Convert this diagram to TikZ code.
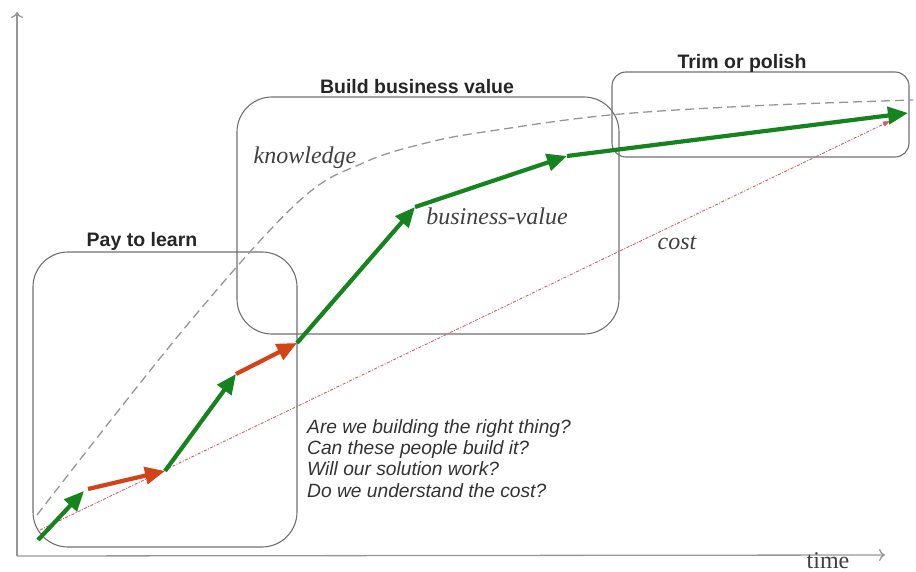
\documentclass[tikz,border=0pt]{standalone}
\usepackage{fontspec}
\setmainfont{Liberation Serif}
\setsansfont{Liberation Sans}
\usetikzlibrary{arrows.meta}
\definecolor{valgreen}{RGB}{22,132,30}
\definecolor{learnred}{RGB}{212,66,24}
\definecolor{framegray}{RGB}{112,112,112}
\definecolor{knowgray}{RGB}{150,150,150}
\definecolor{costred}{RGB}{214,90,100}
\begin{document}
\begin{tikzpicture}[x=1pt,y=-1pt,
  phase/.style={draw=framegray, line width=1.1pt},
  phaselabel/.style={font=\sffamily\bfseries\fontsize{19.5}{21}\selectfont, text=black!85, inner sep=0pt},
  curvelabel/.style={font=\itshape\fontsize{24}{26}\selectfont, text=black!75, inner sep=0pt},
  question/.style={font=\sffamily\itshape\fontsize{19.2}{21}\selectfont, text=black!80, inner sep=0pt, anchor=base west},
  valstep/.style={draw=valgreen, line width=4.2pt, -{Triangle[length=20pt,width=17pt]}},
  learnstep/.style={draw=learnred, line width=4.2pt, -{Triangle[length=20pt,width=17pt]}},
  axisline/.style={draw=knowgray, line width=1.3pt},
  knowcurve/.style={draw=knowgray, line width=1.3pt, dash pattern=on 9pt off 5pt},
  costline/.style={draw=costred, line width=0.9pt, dash pattern=on 3pt off 1.5pt on 1pt off 1.5pt, -{Triangle[length=7pt,width=5pt]}}]
\useasboundingbox (0,0) rectangle (916,572);

% axes
\coordinate (origin) at (17,556);
\coordinate (ytop) at (17,12);
\coordinate (xend) at (885,555);
\draw[axisline, -{To[length=6pt,width=12pt]}] (origin) -- (ytop);
\draw[axisline, -{To[length=6pt,width=12pt]}] (origin) -- (xend);
\node[font=\fontsize{24}{26}\selectfont, text=black!75, inner sep=0pt, anchor=base] (timelbl) at (828,568) {time};

% phases
\draw[phase, rounded corners=35pt] (33,252) rectangle (297,547);
\draw[phase, rounded corners=35pt] (237,97) rectangle (619,334);
\draw[phase, rounded corners=14pt] (612,72) rectangle (909,157);
\node[phaselabel, anchor=base] (learnlbl) at (142,247) {Pay to learn};
\node[phaselabel, anchor=base] (buildlbl) at (417,94) {Build business value};
\node[phaselabel, anchor=base] (trimlbl) at (742,69) {Trim or polish};

% knowledge curve
\draw[knowcurve] plot[smooth, tension=0.6] coordinates {(37,515) (183,330) (297,203) (363,163) (430,142) (497,130) (610,115) (750,106) (913,100)};
\node[curvelabel, anchor=base] (knowlbl) at (305,164) {knowledge};

% cost line
\coordinate (c0) at (40,530);
\coordinate (c1) at (890,121);
\draw[costline] (c0) -- (c1);
\node[curvelabel, anchor=base] (costlbl) at (677,250) {cost};

% business value steps
\coordinate (v0) at (38,540);
\coordinate (v1) at (84,491);
\coordinate (r0) at (88,489);
\coordinate (v2) at (165,471);
\coordinate (v3) at (236,374);
\coordinate (v4) at (297,343);
\coordinate (v5) at (415,207);
\coordinate (v6) at (567,156);
\coordinate (v7) at (908,113);
\draw[valstep] (v0) -- (v1);
\draw[learnstep] (r0) -- (v2);
\draw[valstep] (v2) -- (v3);
\draw[learnstep] (v3) -- (v4);
\draw[valstep] (v4) -- (v5);
\draw[valstep] (v5) -- (v6);
\draw[valstep] (v6) -- (v7);
\node[curvelabel, anchor=base] (valuelbl) at (497,225) {business-value};

% questions
\node[question] (q1) at (307,433) {Are we building the right thing?};
\node[question] (q2) at (307,454) {Can these people build it?};
\node[question] (q3) at (307,475) {Will our solution work?};
\node[question] (q4) at (307,497) {Do we understand the cost?};
\end{tikzpicture}
\end{document}
